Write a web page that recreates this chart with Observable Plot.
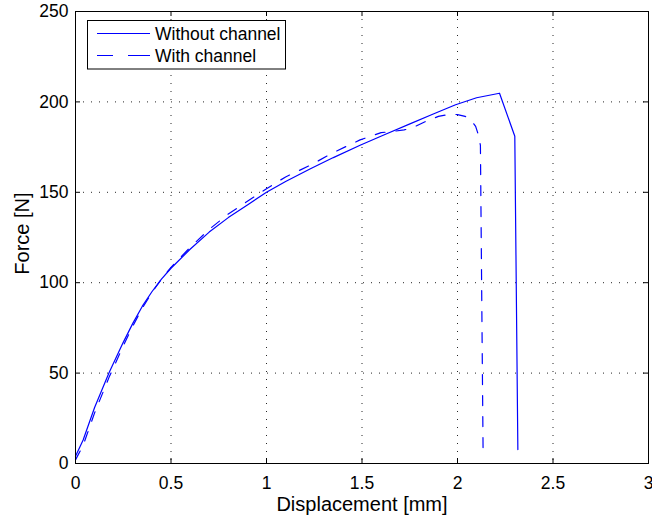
<!DOCTYPE html>
<html>
<head>
<meta charset="utf-8">
<script src="https://cdn.jsdelivr.net/npm/d3@7"></script>
<script src="https://cdn.jsdelivr.net/npm/@observablehq/plot@0.6"></script>
<style>
  html, body { margin: 0; padding: 0; background: #fff; }
  #chart { width: 652px; height: 517px; }
</style>
</head>
<body>
<div id="chart"></div>
<script>
// Force–displacement curves of the two specimens
const dispWithout = [0, 0.04, 0.1, 0.175, 0.25, 0.3, 0.35, 0.4, 0.45, 0.5, 0.6, 0.7, 0.8, 0.9, 1.0, 1.1, 1.23, 1.35, 1.49, 1.62, 1.754, 1.87, 1.99, 2.1, 2.22, 2.30, 2.316];
const forceWithout = [4, 13, 31, 50, 67, 77.5, 87, 95, 102, 108, 118.5, 128, 136, 143, 150, 156, 163, 169.2, 176, 182, 188, 193.2, 198.4, 202.3, 204.8, 181, 7.7];

const dispWith = [0, 0.04, 0.1, 0.175, 0.25, 0.3, 0.35, 0.4, 0.45, 0.5, 0.6, 0.7, 0.8, 0.9, 1.0, 1.1, 1.23, 1.35, 1.49, 1.6, 1.65, 1.72, 1.76, 1.83, 1.9, 1.96, 2.0, 2.04, 2.07, 2.095, 2.11, 2.12, 2.134];
const forceWith = [2, 10, 28, 47.5, 65, 76, 86, 94.5, 102, 108.5, 119.5, 129.5, 138, 145, 152, 158.5, 165, 172, 179, 183, 183.5, 184.5, 185.5, 189, 192, 193.2, 193, 192, 190, 186.5, 181.5, 176, 6.6];

const seriesNames = ["Without channel", "With channel"];
const xTicks = [0, 0.5, 1, 1.5, 2, 2.5, 3];
const yTicks = [0, 50, 100, 150, 200, 250];

const without = dispWithout.map((d, i) => ({d, f: forceWithout[i]}));
const withChannel = dispWith.map((d, i) => ({d, f: forceWith[i]}));

const W = 652, H = 517;
const mL = 75, mR = 4, mT = 11, mB = 54;
const innerW = W - mL - mR, innerH = H - mT - mB;
const tickLen = 5;
const blue = "#0000ff";
const font = "'Liberation Sans', Arial, Helvetica, sans-serif";

const svg = Plot.plot({
  width: W,
  height: H,
  marginLeft: mL,
  marginRight: mR,
  marginTop: mT,
  marginBottom: mB,
  style: {fontFamily: font, background: "white", color: "black", overflow: "visible"},
  x: {domain: [0, 3]},
  y: {domain: [0, 250]},
  marks: [
    // dotted grid
    Plot.gridX(xTicks, {stroke: "black", strokeOpacity: 0.85, strokeDasharray: "1,7"}),
    Plot.gridY(yTicks, {stroke: "black", strokeOpacity: 0.85, strokeDasharray: "1,7"}),
    // inward ticks on all four sides of the box
    Plot.tickX(xTicks, {x: d => d, insetTop: innerH - tickLen, stroke: "black"}),
    Plot.tickX(xTicks, {x: d => d, insetBottom: innerH - tickLen, stroke: "black"}),
    Plot.tickY(yTicks, {y: d => d, insetRight: innerW - tickLen, stroke: "black"}),
    Plot.tickY(yTicks, {y: d => d, insetLeft: innerW - tickLen, stroke: "black"}),
    // curves
    Plot.line(withChannel, {x: "d", y: "f", stroke: blue, strokeWidth: 1.2, strokeDasharray: "10,11"}),
    Plot.line(without, {x: "d", y: "f", stroke: blue, strokeWidth: 1.2}),
    Plot.frame({stroke: "black"}),
    // tick labels
    Plot.axisX({ticks: xTicks, tickSize: 0, tickPadding: 13, fontSize: 17.5, tickFormat: d => String(d), label: null}),
    Plot.axisY({ticks: yTicks, tickSize: 0, tickPadding: 7, fontSize: 17.5, tickFormat: d => String(d), label: null}),
    // axis titles
    Plot.text(["Displacement [mm]"], {frameAnchor: "bottom", lineAnchor: "middle", textAnchor: "middle", dy: 40.6, fontSize: 20, fill: "black"}),
    Plot.text(["Force [N]"], {frameAnchor: "left", lineAnchor: "middle", textAnchor: "middle", dx: -53, dy: -4, rotate: -90, fontSize: 20, fill: "black"})
  ]
});

// legend box in the upper-left corner of the axes
const lg = d3.select(svg).append("g")
  .attr("font-family", font).attr("font-size", 17.5).attr("text-anchor", "start");
lg.append("rect")
  .attr("x", 87.5).attr("y", 20.5).attr("width", 198).attr("height", 48.5)
  .attr("fill", "white").attr("stroke", "black");
const rows = [
  {name: seriesNames[0], y: 33.5, dash: null},
  {name: seriesNames[1], y: 55.5, dash: "16,15,22"}
];
rows.forEach(r => {
  const ln = lg.append("line")
    .attr("x1", 97).attr("x2", 150).attr("y1", r.y).attr("y2", r.y)
    .attr("stroke", blue).attr("stroke-width", 1.2);
  if (r.dash) ln.attr("stroke-dasharray", r.dash);
  lg.append("text")
    .attr("x", 155).attr("y", r.y).attr("dy", "0.35em")
    .attr("text-anchor", "start")
    .attr("fill", "black").text(r.name);
});

document.getElementById("chart").appendChild(svg);
</script>
</body>
</html>
